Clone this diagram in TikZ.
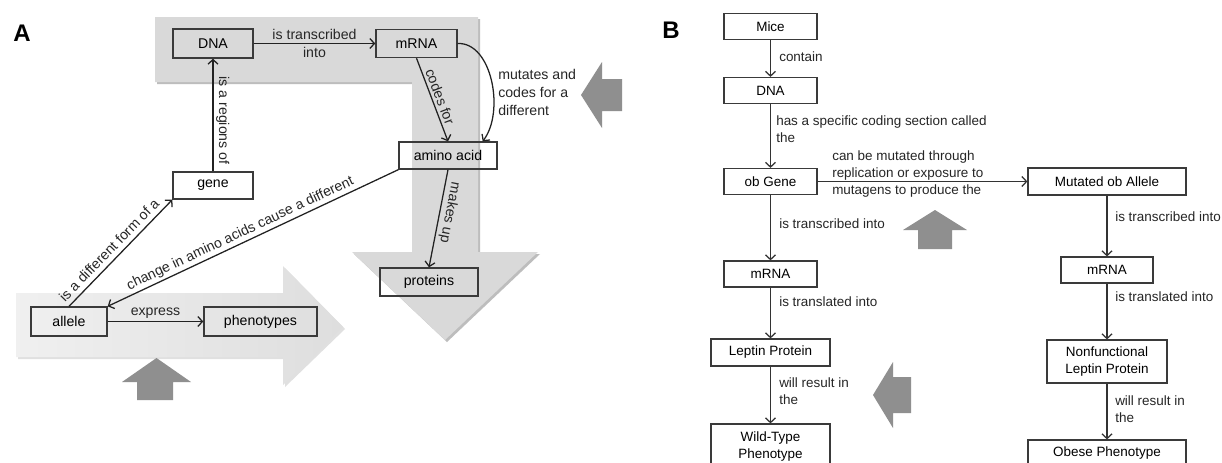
\documentclass[tikz,border=0pt]{standalone}
\usepackage{fontspec}
\setmainfont{Liberation Sans}
\usetikzlibrary{arrows.meta}
\definecolor{boxc}{HTML}{3A3A3A}
\definecolor{linec}{HTML}{222222}
\definecolor{linecB}{HTML}{333333}
\definecolor{bandc}{HTML}{D9D9D9}
\definecolor{bandsh}{HTML}{BDBDBD}
\definecolor{darkarr}{HTML}{8F8F8F}
\newcommand\fontAsz{\fontsize{10.6}{13.5}\selectfont}
\newcommand\fontBsz{\fontsize{10.1}{12.75}\selectfont}
\begin{document}
\begin{tikzpicture}[x=0.75pt,y=-0.75pt,
  boxA/.style={draw=boxc, line width=1pt, inner sep=0pt, minimum height=21pt, align=center, font=\fontAsz},
  boxB/.style={draw=boxc, fill=white, line width=0.9pt, inner sep=0pt, minimum height=19.5pt, align=center, font=\fontBsz},
  connA/.style={draw=linec, line width=0.95pt, -{Straight Barb[length=3.5pt,width=7.5pt]}},
  connB/.style={draw=linecB, line width=0.95pt, -{Straight Barb[length=3.5pt,width=7.5pt]}},
  lblA/.style={font=\fontAsz, inner sep=2pt, text=black!85},
  lblB/.style={font=\fontBsz, inner sep=0pt, align=left, anchor=west, text=black!85},
  darrow/.style={fill=darkarr},
  panel/.style={font=\fontsize{18}{20}\selectfont\bfseries}
]
\useasboundingbox (0,0) rectangle (1222,462);
\fill[white] (0,0) rectangle (1222,462);

% ---------- Panel A backgrounds ----------
\begin{scope}[shift={(2,2)}]
\fill[bandsh] (155,17) -- (478,17) -- (478,252) -- (538,252) -- (445,340) -- (352,252) -- (412,252) -- (412,82) -- (155,82) -- cycle;
\fill[black!12] (16,293) -- (283,293) -- (283,266) -- (343,327) -- (283,385) -- (283,357) -- (16,357) -- cycle;
\end{scope}
\fill[bandc] (155,17) -- (478,17) -- (478,252) -- (538,252) -- (445,340) -- (352,252) -- (412,252) -- (412,82) -- (155,82) -- cycle;
\shade[left color=black!6, right color=black!13] (16,293) -- (283,293) -- (283,266) -- (343,327) -- (283,385) -- (283,357) -- (16,357) -- cycle;

% dark block arrows
\fill[darrow] (122,382) -- (156.5,358) -- (191,382) -- (173,382) -- (173,400) -- (137,400) -- (137,382) -- cycle;
\fill[darrow] (581,95) -- (602,62) -- (602,79) -- (622,79) -- (622,111) -- (602,111) -- (602,128) -- cycle;
\fill[darrow] (935,210) -- (967,230) -- (952,230) -- (952,249) -- (918,249) -- (918,230) -- (903,230) -- cycle;
\fill[darrow] (873,395) -- (893,362) -- (893,377) -- (911,377) -- (911,413) -- (893,413) -- (893,428) -- cycle;

% panel letters
\node[panel] (labA) at (22,33.5) {A};
\node[panel] (labB) at (671,30) {B};

% ---------- Panel A nodes ----------
\node[boxA, minimum width=60pt, minimum height=21.75pt] (dnaA) at (213,43.5) {DNA};
\node[boxA, minimum width=60.75pt] (mrnaA) at (416.5,43.5) {mRNA};
\node[boxA, minimum width=73.5pt, minimum height=20.25pt] (amino) at (448,155.5) {amino acid};
\node[boxA, fill=white, minimum width=60pt, minimum height=20.25pt] (gene) at (213,185.5) {gene};
\node[boxA, minimum width=73.5pt] (prot) at (429,282) {proteins};
\node[boxA, minimum width=57pt, minimum height=21.75pt] (allele) at (69,321.5) {allele};
\node[boxA, minimum width=84.75pt, minimum height=21.75pt] (pheno) at (260.5,321.5) {phenotypes};

% ---------- Panel A connectors ----------
\draw[connA] (dnaA) -- node[lblA, align=center] {is transcribed\\into} (mrnaA);
\draw[connA] (gene) -- node[lblA, rotate=-90, anchor=south, pos=0.45] {is a regions of} (dnaA);
\draw[connA] (mrnaA.south) -- node[lblA, sloped, above] {codes for} (amino.north);
\draw[connA] (mrnaA.east) .. controls (492,42) and (505,112) .. ([xshift=-11.25pt]amino.north east);
\node[lblA, anchor=west, align=left, inner sep=0pt] (mutlbl) at (498,92) {mutates and\\codes for a\\different};
\draw[connA] (amino.south) -- node[lblA, sloped, allow upside down, above, pos=0.42] {makes up} (prot.north);
\draw[connA] (amino.south west) -- node[lblA, sloped, above, pos=0.53, inner sep=1.5pt] {change in amino acids cause a different} (allele.north east);
\draw[connA] (allele.north) -- node[lblA, sloped, above, pos=0.46, inner sep=3.5pt] {is a different form of a} (gene.south west);
\draw[connA] (allele) -- node[lblA, above] {express} (pheno);

% ---------- Panel B nodes ----------
\node[boxB, minimum width=69.75pt] (mice) at (770.5,26.5) {Mice};
\node[boxB, minimum width=69.75pt] (dnaB) at (770.5,90.5) {DNA};
\node[boxB, minimum width=69.75pt] (obgene) at (770.5,181.5) {ob Gene};
\node[boxB, minimum width=69.75pt] (mrnaL) at (770.5,274) {mRNA};
\node[boxB, minimum width=89.25pt, minimum height=20.25pt] (leptin) at (770.5,352.5) {Leptin Protein};
\node[boxB, minimum width=89.25pt, minimum height=34.5pt] (wild) at (770.5,447) {Wild-Type\\Phenotype};
\node[boxB, minimum width=118.5pt, minimum height=20.25pt] (mutated) at (1107,181.5) {Mutated ob Allele};
\node[boxB, minimum width=69pt] (mrnaR) at (1107,270) {mRNA};
\node[boxB, minimum width=90pt, minimum height=32.25pt] (nonfun) at (1107,361.5) {Nonfunctional\\Leptin Protein};
\node[boxB, minimum width=118.5pt] (obese) at (1107,453) {Obese Phenotype};

% ---------- Panel B connectors ----------
\draw[connB] (mice) -- (dnaB);
\draw[connB] (dnaB) -- (obgene);
\draw[connB] (obgene) -- (mutated);
\draw[connB] (obgene) -- (mrnaL);
\draw[connB] (mrnaL) -- (leptin);
\draw[connB] (leptin) -- (wild);
\draw[connB] (mutated) -- (mrnaR);
\draw[connB] (mrnaR) -- (nonfun);
\draw[connB] (nonfun) -- (obese);

% ---------- Panel B labels ----------
\node[lblB] (l1) at (779,57) {contain};
\node[lblB] (l2) at (776,129.5) {has a specific coding section called\\the};
\node[lblB] (l3) at (832,174) {can be mutated through\\replication or exposure to\\mutagens to produce the};
\node[lblB] (l4) at (779,224) {is transcribed into};
\node[lblB] (l5) at (779,302) {is translated into};
\node[lblB] (l6) at (779,391) {will result in\\the};
\node[lblB] (l7) at (1115,217) {is transcribed into};
\node[lblB] (l8) at (1115,297) {is translated into};
\node[lblB] (l9) at (1115,409) {will result in\\the};
\end{tikzpicture}
\end{document}
